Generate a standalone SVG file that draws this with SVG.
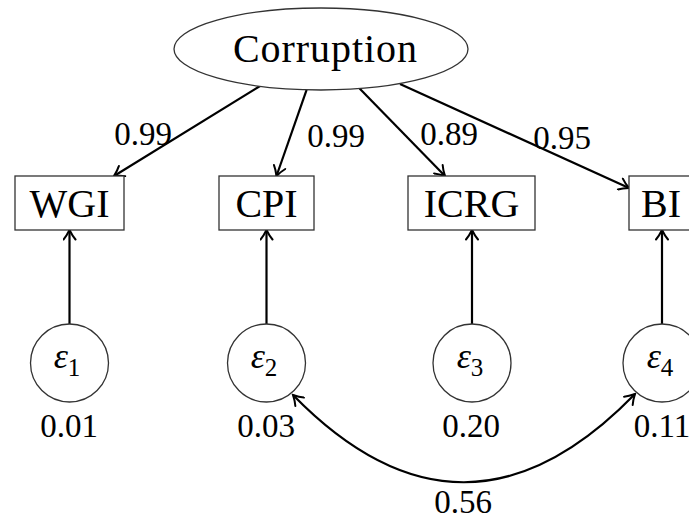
<svg xmlns="http://www.w3.org/2000/svg" width="689" height="520" viewBox="0 0 689 520">
<style>
.lbl{font-family:"Liberation Serif","Times New Roman",serif;font-size:40px;fill:#000;text-anchor:middle}
.num{font-family:"Liberation Serif","Times New Roman",serif;font-size:33px;fill:#000;text-anchor:middle}
.eps{font-family:"Liberation Serif","Times New Roman",serif;font-size:36px;fill:#000;text-anchor:middle}
.shape{fill:#fff;stroke:#333;stroke-width:1.3}
.edge{fill:none;stroke:#000;stroke-width:2.2}
</style>
<defs>
<marker id="arr" viewBox="-11 -7 13 14" refX="0" refY="0" markerWidth="13" markerHeight="14" markerUnits="userSpaceOnUse" orient="auto-start-reverse">
<path d="M-9.5,-6 C-6,-3 -2,-1 0,0 C-2,1 -6,3 -9.5,6" fill="none" stroke="#000" stroke-width="2" stroke-linecap="round"/>
</marker>
</defs>
<g id="connectors">
<line class="edge" x1="261.7" y1="85" x2="114" y2="176" marker-end="url(#arr)"/>
<line class="edge" x1="306.6" y1="89.8" x2="276.5" y2="176" marker-end="url(#arr)"/>
<line class="edge" x1="359.6" y1="88.5" x2="445" y2="176" marker-end="url(#arr)"/>
<line class="edge" x1="400" y1="84" x2="629" y2="188" marker-end="url(#arr)"/>
<line class="edge" x1="69.5" y1="324" x2="69.5" y2="230" marker-end="url(#arr)"/>
<line class="edge" x1="266.5" y1="324" x2="266.5" y2="230" marker-end="url(#arr)"/>
<line class="edge" x1="472" y1="324" x2="472" y2="230" marker-end="url(#arr)"/>
<line class="edge" x1="662" y1="324" x2="662" y2="230" marker-end="url(#arr)"/>
<path class="edge" d="M293,395 Q464,570 635,394" marker-start="url(#arr)" marker-end="url(#arr)"/>
<text class="num" x="143" y="145">0.99</text>
<text class="num" x="336" y="147">0.99</text>
<text class="num" x="449" y="145">0.89</text>
<text class="num" x="562" y="149">0.95</text>
<text class="num" x="463" y="513">0.56</text>
</g>
<g id="corruption">
<ellipse class="shape" cx="321" cy="49" rx="147" ry="41"/>
<text class="lbl" x="325" y="62" textLength="184">Corruption</text>
</g>
<g id="wgi">
<rect class="shape" x="15" y="176" width="109" height="54"/>
<text class="lbl" x="69.5" y="217">WGI</text>
</g>
<g id="cpi">
<rect class="shape" x="219" y="176" width="95" height="54"/>
<text class="lbl" x="266.5" y="217">CPI</text>
</g>
<g id="icrg">
<rect class="shape" x="408" y="176" width="127" height="54"/>
<text class="lbl" x="471.5" y="217">ICRG</text>
</g>
<g id="bi">
<rect class="shape" x="629" y="176" width="64" height="54"/>
<text class="lbl" x="661" y="217">BI</text>
</g>
<g id="e1">
<circle class="shape" cx="69.5" cy="363" r="39"/>
<text class="eps" x="67" y="368"><tspan font-style="italic">ε</tspan><tspan font-size="25" dy="8">1</tspan></text>
<text class="num" x="69" y="437">0.01</text>
</g>
<g id="e2">
<circle class="shape" cx="266.5" cy="363" r="39"/>
<text class="eps" x="264" y="368"><tspan font-style="italic">ε</tspan><tspan font-size="25" dy="8">2</tspan></text>
<text class="num" x="266" y="437">0.03</text>
</g>
<g id="e3">
<circle class="shape" cx="472" cy="363" r="39"/>
<text class="eps" x="470" y="368"><tspan font-style="italic">ε</tspan><tspan font-size="25" dy="8">3</tspan></text>
<text class="num" x="471" y="437">0.20</text>
</g>
<g id="e4">
<circle class="shape" cx="662" cy="363" r="39"/>
<text class="eps" x="660" y="368"><tspan font-style="italic">ε</tspan><tspan font-size="25" dy="8">4</tspan></text>
<text class="num" x="662" y="437">0.11</text>
</g>
</svg>
